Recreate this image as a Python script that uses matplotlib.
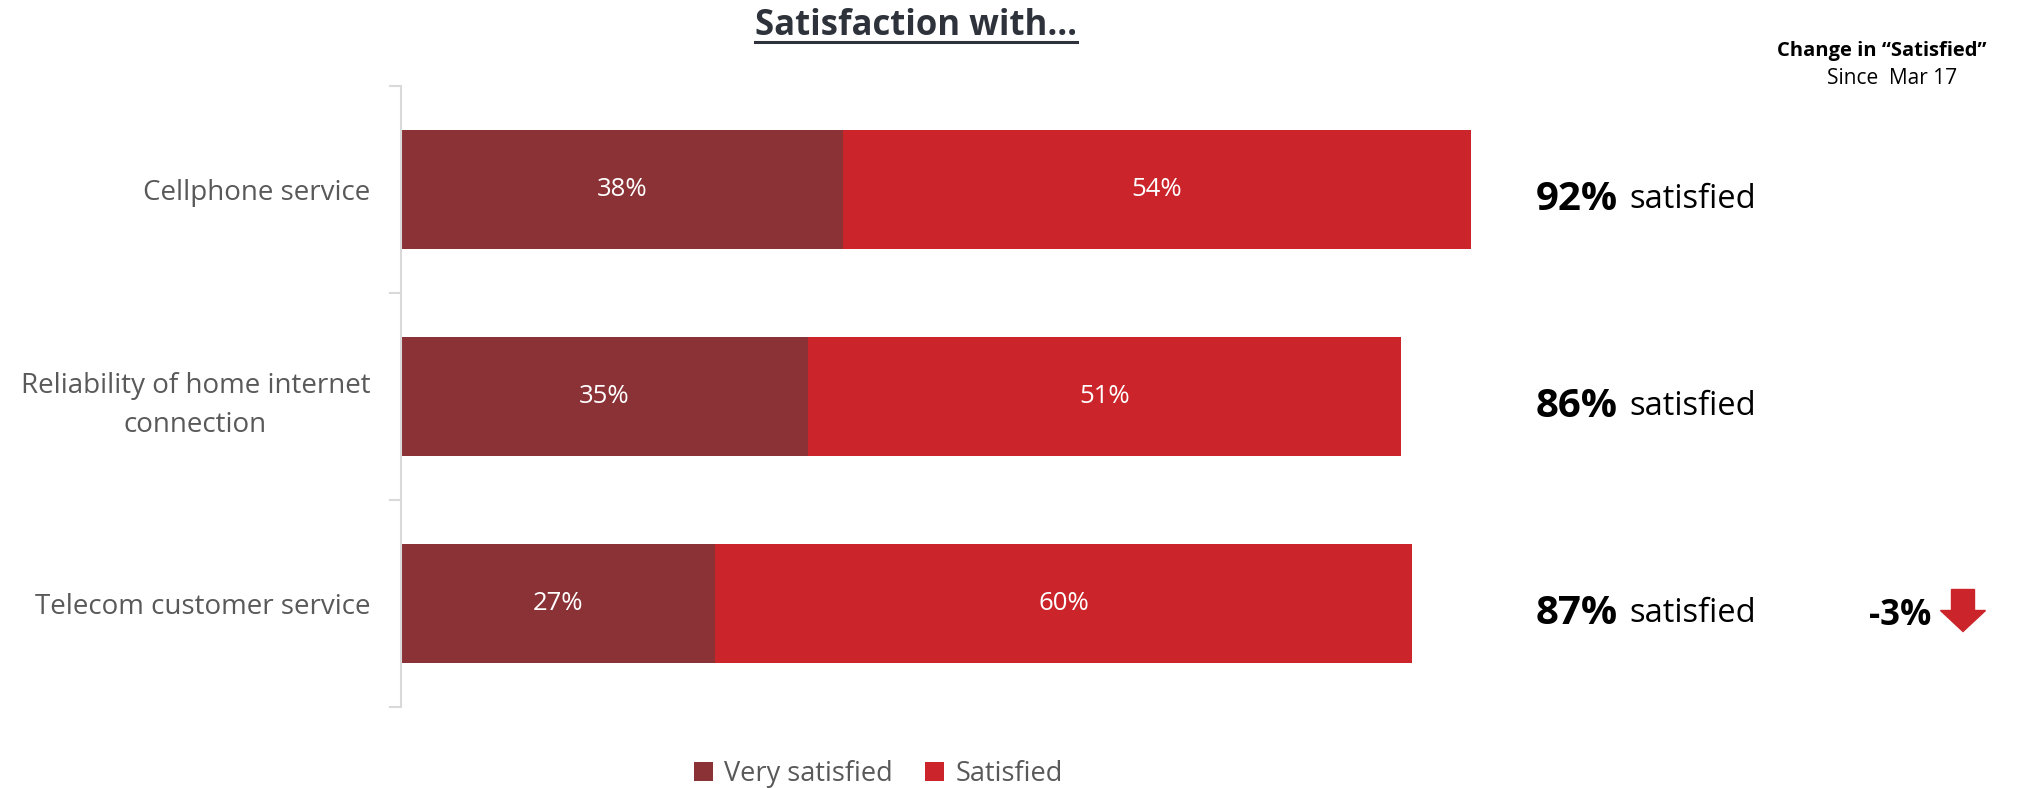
import matplotlib.pyplot as plt
from matplotlib.lines import Line2D
from matplotlib.patches import Polygon
import numpy as np

categories = ["Cellphone service", "Reliability of home internet\nconnection", "Telecom customer service"]
very_satisfied = [38, 35, 27]
satisfied = [54, 51, 60]
change = [None, None, -3]

dark_red = "#8B3236"
red = "#CC242B"
grey_txt = "#595959"

fig = plt.figure(figsize=(20.29, 7.88), dpi=100)
ax = fig.add_axes([0.1976, 0.1028, 0.573, 0.788])

y = np.arange(len(categories))
b1 = ax.barh(y, very_satisfied, height=0.575, color=dark_red, label="Very satisfied")
b2 = ax.barh(y, satisfied, left=very_satisfied, height=0.575, color=red, label="Satisfied")

for bars, vals in ((b1, very_satisfied), (b2, satisfied)):
    for rect, v in zip(bars, vals):
        ax.text(rect.get_x() + rect.get_width() / 2, rect.get_y() + rect.get_height() / 2,
                f"{v}%", ha="center", va="center", color="white", fontsize=18.5, family="Open Sans")

ax.set_xlim(0, 100)
ax.set_ylim(len(categories) - 0.5, -0.5)
ax.set_yticks(y)
ax.set_yticklabels(categories, fontsize=20, color=grey_txt, family="Open Sans", ha="right",
                   multialignment="center", linespacing=1.5)
ax.tick_params(axis="y", which="major", length=0, pad=22)
ax.set_yticks(np.arange(-0.5, len(categories)), minor=True)
ax.tick_params(axis="y", which="minor", length=9, color="#D9D9D9", width=1.5)
ax.set_xticks([])
for s in ("top", "right", "bottom"):
    ax.spines[s].set_visible(False)
ax.spines["left"].set_color("#D9D9D9")
ax.spines["left"].set_linewidth(1.5)

# totals to the right of each bar
totals = [a + b for a, b in zip(very_satisfied, satisfied)]
for yi, t in zip(y, totals):
    ax.annotate(f"{t}%", xy=(0, yi), xycoords=("axes fraction", "data"), xytext=(1135, -10),
                textcoords="offset pixels", fontsize=29, fontweight="bold", family="Open Sans",
                va="center", ha="left", annotation_clip=False)
    ax.annotate("satisfied", xy=(0, yi), xycoords=("axes fraction", "data"), xytext=(1228, -10),
                textcoords="offset pixels", fontsize=23.5, family="Open Sans",
                va="center", ha="left", annotation_clip=False)

# change column
fig.text(0.979, 0.935, "Change in \u201cSatisfied\u201d", ha="right", va="center",
         fontsize=14.5, fontweight="bold", family="Open Sans")
fig.text(0.9325, 0.9, "Since  Mar 17", ha="center", va="center", fontsize=15, family="Open Sans")

for yi, c in zip(y, change):
    if c is None:
        continue
    ax.annotate(f"{c}%", xy=(0, yi), xycoords=("axes fraction", "data"), xytext=(1530, -12),
                textcoords="offset pixels", fontsize=25, fontweight="bold", family="Open Sans",
                va="center", ha="right", annotation_clip=False)
    # down arrow
    _, py = ax.transData.transform((0, yi))
    x0 = 1963
    top = py + 14
    pts = [(x0 - 11.5, top), (x0 + 11.5, top), (x0 + 11.5, top - 21), (x0 + 22.5, top - 21),
           (x0, top - 42), (x0 - 22.5, top - 21), (x0 - 11.5, top - 21)]
    W, H = fig.bbox.width, fig.bbox.height
    fig.patches.append(Polygon([(px / W, q / H) for px, q in pts], closed=True,
                               transform=fig.transFigure, color=red))

# title with underline
title = fig.text(0.4515, 0.967, "Satisfaction with\u2026", ha="center", va="center",
                 fontsize=25, fontweight="bold", color="#2E333B", family="Open Sans")
fig.canvas.draw()
bb = title.get_window_extent().transformed(fig.transFigure.inverted())
fig.lines.append(Line2D([bb.x0, bb.x1], [bb.y0 + 0.002, bb.y0 + 0.002], transform=fig.transFigure,
                        color="#2E333B", lw=2.2))

fig.legend(handles=[b1, b2], loc="center", bbox_to_anchor=(0.433, 0.018), ncol=2, frameon=False,
           prop={"family": "Open Sans", "size": 19.5}, labelcolor=grey_txt, handlelength=0.7,
           handleheight=0.7, handletextpad=0.4, columnspacing=1.2)

fig.savefig("out.png", dpi=100)
